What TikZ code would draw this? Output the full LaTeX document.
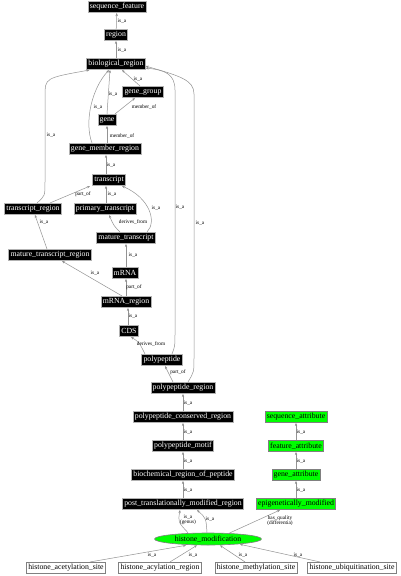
\documentclass[tikz,border=0pt]{standalone}
\usepackage{fontspec}
\setmainfont{Liberation Serif}
\usetikzlibrary{arrows.meta,shapes.geometric}
\tikzset{
  base/.style={rectangle, inner xsep=1.8pt, inner ysep=0pt, minimum height=11.5pt, font=\fontsize{7.8}{8}\selectfont, line width=0.6pt},
  blk/.style={base, fill=black, draw=gray!60, text=white},
  grn/.style={base, fill=green, draw=gray, text=black},
  wht/.style={base, fill=white, draw=gray, text=black},
  ell/.style={ellipse, fill=green, draw=gray, text=black, minimum width=107pt, minimum height=12pt, inner sep=0pt, font=\fontsize{7.8}{8}\selectfont, line width=0.6pt},
  e/.style={draw=gray!85, line width=0.5pt, -{Stealth[length=3pt,width=2.4pt,fill=black!80]}},
  lbl/.style={font=\fontsize{5.3}{5.3}\selectfont, inner sep=0pt, align=center},
}
\begin{document}
\begin{tikzpicture}[x=1pt,y=-1pt]
\useasboundingbox[fill=white] (0,0) rectangle (400,576);
% nodes
\node[blk] (sf) at (117,7) {sequence\_feature};
\node[blk] (region) at (116,35) {region};
\node[blk] (bio) at (116,64) {biological\_region};
\node[blk] (gg) at (143,92) {gene\_group};
\node[blk] (gene) at (107,120) {gene};
\node[blk] (gmr) at (105,149) {gene\_member\_region};
\node[blk] (tr) at (109,180) {transcript};
\node[blk] (trr) at (33,209) {transcript\_region};
\node[blk] (pt) at (105,209) {primary\_transcript};
\node[blk] (mt) at (126,238) {mature\_transcript};
\node[blk] (mtr) at (50,255) {mature\_transcript\_region};
\node[blk] (mrna) at (125,273) {mRNA};
\node[blk] (mrnar) at (126,302) {mRNA\_region};
\node[blk] (cds) at (129,331) {CDS};
\node[blk] (pp) at (162,360) {polypeptide};
\node[blk] (ppr) at (183,388) {polypeptide\_region};
\node[blk] (pcr) at (183,417) {polypeptide\_conserved\_region};
\node[blk] (pm) at (183,446) {polypeptide\_motif};
\node[blk] (brp) at (183,475) {biochemical\_region\_of\_peptide};
\node[blk] (ptm) at (183,504) {post\_translationally\_modified\_region};
\node[grn] (sa) at (296,417) {sequence\_attribute};
\node[grn] (fa) at (296,446) {feature\_attribute};
\node[grn] (ga) at (296,475) {gene\_attribute};
\node[grn] (epi) at (296,504) {epigenetically\_modified};
\node[ell] (hm) at (208,539) {histone\_modification};
\node[wht] (hs1) at (66,568) {histone\_acetylation\_site};
\node[wht] (hs2) at (160,568) {histone\_acylation\_region};
\node[wht] (hs3) at (256,568) {histone\_methylation\_site};
\node[wht] (hs4) at (352,568) {histone\_ubiquitination\_site};
% edges
\draw[e] (region) -- (sf) node[lbl] (l1) at (122,21) {is\_a};
\draw[e] (bio) -- (region) node[lbl] (l2) at (122,50) {is\_a};
\draw[e] ([xshift=-3]gg.north) -- ([xshift=6]bio.south) node[lbl] (l3) at (138,79) {is\_a};
\draw[e] (gene.north) -- ([xshift=-6]bio.south) node[lbl] (l4) at (113,94) {is\_a};
\draw[e] ([xshift=8]gene.north) -- ([xshift=-8]gg.south) node[lbl] (l5) at (144,107) {member\_of};
\draw[e] ([xshift=-13]gmr.north) .. controls (84,122) and (92,88) .. ([xshift=-7]bio.south) node[lbl] (l6) at (98,107) {is\_a};
\draw[e] ([xshift=2]gmr.north) -- (gene.south) node[lbl] (l7) at (122,136) {member\_of};
\draw[e] ([xshift=4]trr.north) .. controls (45,196) .. (45,182) -- (45,96) .. controls (45,78) .. ([xshift=3]bio.south west) node[lbl] (l8) at (51,135) {is\_a};
\draw[e] ([xshift=-3]tr.north) -- ([xshift=1]gmr.south) node[lbl] (l9) at (111,165) {is\_a};
\draw[e] ([xshift=17]trr.north) -- ([xshift=-19]tr.south) node[lbl] (l10) at (83,194) {part\_of};
\draw[e] ([xshift=1]pt.north) -- ([xshift=-3]tr.south) node[lbl] (l11) at (112,194) {is\_a};
\draw[e] ([xshift=-6]mt.north) .. controls (114,226) .. ([xshift=4]pt.south) node[lbl] (l12) at (133,222) {derives\_from};
\draw[e] ([xshift=21]mt.north) .. controls (157,222) and (150,198) .. ([xshift=13]tr.south) node[lbl] (l13) at (156,208) {is\_a};
\draw[e] ([xshift=-3]mtr.north) -- ([xshift=2]trr.south) node[lbl] (l14) at (44,222) {is\_a};
\draw[e] ([xshift=1]mrna.north) -- (mt.south) node[lbl] (l15) at (133,255) {is\_a};
\draw[e] ([xshift=-4]mrnar.north) -- ([xshift=12]mtr.south) node[lbl] (l16) at (95,273) {is\_a};
\draw[e] (mrnar.north) -- ([xshift=1]mrna.south) node[lbl] (l17) at (134,287) {part\_of};
\draw[e] ([xshift=-1]cds.north) -- ([xshift=2]mrnar.south) node[lbl] (l18) at (133,316) {is\_a};
\draw[e] ([xshift=-17]pp.north) .. controls (139,342) .. ([xshift=2]cds.south) node[lbl] (l19) at (151,344) {derives\_from};
\draw[e] ([xshift=10]pp.north) .. controls (175,346) .. (175,334) -- (175,90) .. controls (175,74) and (165,70) .. ([yshift=2]bio.south east) node[lbl] (l20) at (180,207) {is\_a};
\draw[e] ([xshift=-10]ppr.north) -- ([xshift=3]pp.south) node[lbl] (l21) at (178,372) {part\_of};
\draw[e] ([xshift=5]ppr.north) .. controls (194,372) .. (194,358) -- (194,94) .. controls (194,80) and (180,76) .. ([yshift=4]bio.south east) node[lbl] (l22) at (200,223) {is\_a};
\draw[e] (pcr) -- (ppr) node[lbl] (l23) at (188,403) {is\_a};
\draw[e] (pm) -- (pcr) node[lbl] (l24) at (188,432) {is\_a};
\draw[e] (brp) -- (pm) node[lbl] (l25) at (188,461) {is\_a};
\draw[e] (ptm) -- (brp) node[lbl] (l26) at (188,490) {is\_a};
\draw[e] ([xshift=-20]hm.north) .. controls (178,522) .. ([xshift=-3]ptm.south) node[lbl] (l27) at (188,520) {is\_a\\(genus)};
\draw[e] ([xshift=-1]hm.north) .. controls (206,518) .. ([xshift=14]ptm.south) node[lbl] (l28) at (210,519) {is\_a};
\draw[e] ([xshift=20,yshift=-1]hm.north) -- ([xshift=-16]epi.south) node[lbl] (l29) at (280,521) {has\_quality\\(differentia)};
\draw[e] (epi) -- (ga) node[lbl] (l30) at (301,490) {is\_a};
\draw[e] (ga) -- (fa) node[lbl] (l31) at (301,461) {is\_a};
\draw[e] (fa) -- (sa) node[lbl] (l32) at (301,432) {is\_a};
\draw[e] ([xshift=24]hs1.north) -- ([xshift=-22]hm.south) node[lbl] (l33) at (152,555) {is\_a};
\draw[e] ([xshift=10]hs2.north) -- ([xshift=-11]hm.south) node[lbl] (l34) at (193,555) {is\_a};
\draw[e] ([xshift=-11]hs3.north) -- ([xshift=12]hm.south) node[lbl] (l35) at (243,555) {is\_a};
\draw[e] ([xshift=-32]hs4.north) -- ([xshift=32,yshift=1]hm.south) node[lbl] (l36) at (298,555) {is\_a};
\end{tikzpicture}
\end{document}
